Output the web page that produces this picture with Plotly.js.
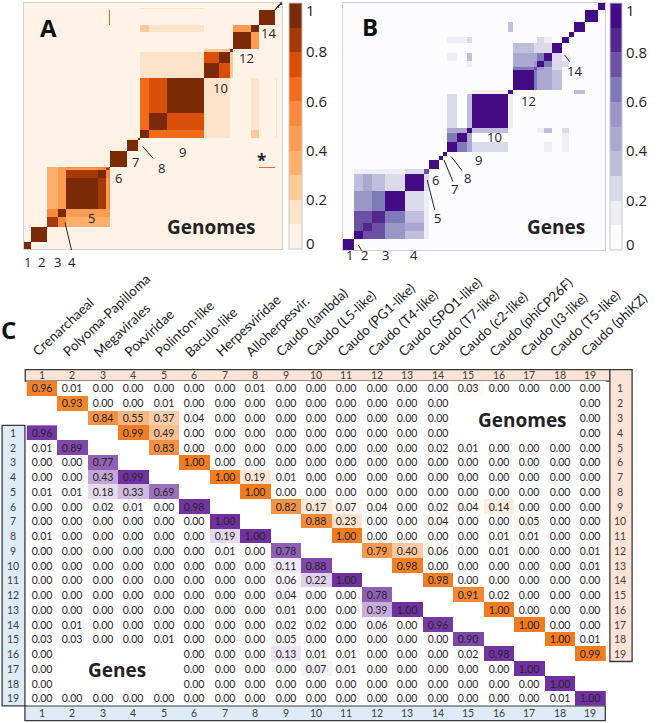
<!DOCTYPE html>
<html>
<head>
<meta charset="utf-8">
<script src="https://cdn.plot.ly/plotly-3.0.1.min.js"></script>
<style>
  html, body { margin: 0; padding: 0; background: #fff; }
  #chart { width: 660px; height: 723px; }
</style>
</head>
<body>
<div id="chart"></div>
<script>
// ---------- table C ----------
const columnNames = [
  'Crenarchaeal', 'Polyoma-Papilloma', 'Megavirales', 'Poxviridae', 'Polinton-like',
  'Baculo-like', 'Herpesviridae', 'Alloherpesvir.', 'Caudo (lambda)', 'Caudo (L5-like)',
  'Caudo (PG1-like)', 'Caudo (T4-like)', 'Caudo (SPO1-like)', 'Caudo (T7-like)',
  'Caudo (c2-like)', 'Caudo (phiCP26F)', 'Caudo (I3-like)', 'Caudo (T5-like)', 'Caudo (phiKZ)'
];

// genomes: row i holds columns i..19 (null = hidden under the label)
const genomeRows = [
  [0.96, 0.01, 0.00, 0.00, 0.00, 0.00, 0.00, 0.01, 0.00, 0.00, 0.00, 0.00, 0.00, 0.00, 0.03, 0.00, 0.00, 0.00, 0.00],
  [0.93, 0.00, 0.00, 0.01, 0.00, 0.00, 0.00, 0.00, 0.00, 0.00, 0.00, 0.00, 0.00, null, null, null, null, 0.00],
  [0.84, 0.55, 0.37, 0.04, 0.00, 0.00, 0.00, 0.00, 0.00, 0.00, 0.00, 0.00, null, null, null, null, 0.00],
  [0.99, 0.49, 0.00, 0.00, 0.00, 0.00, 0.00, 0.00, 0.00, 0.00, 0.00, null, null, null, null, 0.00],
  [0.83, 0.00, 0.00, 0.00, 0.00, 0.00, 0.00, 0.00, 0.00, 0.02, 0.01, 0.00, 0.00, 0.00, 0.00],
  [1.00, 0.00, 0.00, 0.00, 0.00, 0.00, 0.00, 0.00, 0.00, 0.00, 0.00, 0.00, 0.00, 0.00],
  [1.00, 0.19, 0.01, 0.00, 0.00, 0.00, 0.00, 0.00, 0.00, 0.00, 0.00, 0.00, 0.00],
  [1.00, 0.00, 0.00, 0.00, 0.00, 0.00, 0.00, 0.00, 0.00, 0.00, 0.00, 0.00],
  [0.82, 0.17, 0.07, 0.04, 0.00, 0.02, 0.04, 0.14, 0.00, 0.00, 0.00],
  [0.88, 0.23, 0.00, 0.00, 0.04, 0.00, 0.00, 0.05, 0.00, 0.00],
  [1.00, 0.00, 0.00, 0.00, 0.00, 0.01, 0.01, 0.00, 0.00],
  [0.79, 0.40, 0.06, 0.00, 0.01, 0.00, 0.00, 0.01],
  [0.98, 0.00, 0.00, 0.00, 0.00, 0.00, 0.01],
  [0.98, 0.00, 0.00, 0.00, 0.00, 0.00],
  [0.91, 0.02, 0.00, 0.00, 0.00],
  [1.00, 0.00, 0.00, 0.00],
  [1.00, 0.00, 0.00],
  [1.00, 0.01],
  [0.99]
];

// genes: row i holds columns 1..i
const geneRows = [
  [0.96],
  [0.01, 0.89],
  [0.00, 0.00, 0.77],
  [0.00, 0.00, 0.43, 0.99],
  [0.01, 0.01, 0.18, 0.33, 0.69],
  [0.00, 0.00, 0.02, 0.01, 0.00, 0.98],
  [0.00, 0.00, 0.00, 0.00, 0.00, 0.00, 1.00],
  [0.01, 0.00, 0.00, 0.00, 0.00, 0.00, 0.19, 1.00],
  [0.00, 0.00, 0.00, 0.00, 0.00, 0.00, 0.01, 0.00, 0.78],
  [0.00, 0.00, 0.00, 0.00, 0.00, 0.00, 0.00, 0.00, 0.11, 0.88],
  [0.00, 0.00, 0.00, 0.00, 0.00, 0.00, 0.00, 0.00, 0.06, 0.22, 1.00],
  [0.00, 0.00, 0.00, 0.00, 0.00, 0.00, 0.00, 0.00, 0.04, 0.00, 0.00, 0.78],
  [0.00, 0.00, 0.00, 0.00, 0.00, 0.00, 0.00, 0.00, 0.01, 0.00, 0.00, 0.39, 1.00],
  [0.00, 0.01, 0.00, 0.00, 0.00, 0.00, 0.00, 0.00, 0.02, 0.02, 0.00, 0.06, 0.00, 0.96],
  [0.03, 0.03, 0.00, 0.00, 0.01, 0.00, 0.00, 0.00, 0.05, 0.00, 0.00, 0.00, 0.00, 0.00, 0.90],
  [0.00, null, null, null, null, 0.00, 0.00, 0.00, 0.13, 0.01, 0.01, 0.00, 0.00, 0.00, 0.02, 0.98],
  [0.00, null, null, null, null, 0.00, 0.00, 0.00, 0.00, 0.07, 0.01, 0.00, 0.00, 0.00, 0.00, 0.00, 1.00],
  [0.00, null, null, null, null, 0.00, 0.00, 0.00, 0.00, 0.00, 0.00, 0.00, 0.00, 0.00, 0.00, 0.00, 0.00, 1.00],
  [0.00, 0.00, 0.00, 0.00, 0.00, 0.00, 0.00, 0.00, 0.00, 0.00, 0.00, 0.00, 0.00, 0.00, 0.00, 0.00, 0.00, 0.01, 1.00]
];

// ---------- panel A (genomes), blocks along the diagonal ----------
const aSegSize  = [7, 16, 11, 8, 33, 8, 3, 1, 17, 11, 2, 9, 18, 37, 16, 11, 3, 18, 8, 16, 1, 1, 2, 1, 2];
const aSegGroup = [1, 2, 3, 4, 5, 5, 5, 5, 6, 7, 8, 9, 9, 9, 10, 10, 11, 12, 13, 14, 15, 16, 17, 18, 19];
const aSegSelf  = [0.96, 0.95, 0.85, 0.99, 0.95, 0.95, 0.85, 0.9, 1.0, 1.0, 1.0, 0.95, 0.95, 0.98,
                   0.95, 0.92, 1.0, 0.95, 0.95, 0.98, 1.0, 1.0, 1.0, 1.0, 1.0];
// [segment, segment, value] (sub-clusters, the * genome)
const aSegPairs = [
  [5, 6, 0.8], [5, 7, 0.45], [6, 7, 0.5], [5, 8, 0.5], [6, 8, 0.5], [7, 8, 0.6],
  [12, 13, 0.65], [12, 14, 0.62], [13, 14, 0.75], [15, 16, 0.75],
  [8, 20, 0.65], [12, 19, 0.25], [13, 19, 0.12], [14, 19, 0.12]
];

// ---------- panel B (genes) ----------
const bSegSize = [11, 9, 8, 13, 20, 18, 5, 10, 4, 4, 10, 10, 5, 35, 5, 20, 3, 7, 8, 10, 7, 5, 10, 13, 7];
const bSegSelf = [0.95, 0.95, 0.8, 0.85, 1.0, 1.0, 0.7, 1.0, 1.0, 1.0, 1.0, 1.0, 0.9, 0.98, 1.0,
                  1.0, 0.7, 1.0, 1.0, 1.0, 1.0, 1.0, 1.0, 1.0, 1.0];
const bSegPairs = [
  [2, 3, 0.75], [2, 4, 0.7], [2, 5, 0.55], [2, 6, 0.3],
  [3, 4, 0.7], [3, 5, 0.5], [3, 6, 0.45],
  [4, 5, 0.6], [4, 6, 0.35], [5, 6, 0.2],
  [2, 7, 0.15], [3, 7, 0.15], [4, 7, 0.15], [5, 7, 0.15], [6, 7, 0.25],
  [11, 12, 0.65], [11, 13, 0.4], [12, 13, 0.45],
  [11, 14, 0.2], [13, 14, 0.3], [14, 15, 0.15],
  [16, 17, 0.6], [16, 18, 0.45], [16, 19, 0.4], [16, 20, 0.3], [17, 18, 0.5], [17, 19, 0.45],
  [18, 19, 0.6], [18, 20, 0.2], [19, 20, 0.25], [17, 20, 0.2],
  [18, 21, 0.2], [19, 21, 0.15],
  [11, 21, 0.15], [12, 21, 0.15], [13, 21, 0.2],
  [15, 23, 0.3], [11, 19, 0.15], [13, 19, 0.3], [13, 18, 0.15]
];

const ORANGE_BINS = ['#fff3e8', '#fee3cb', '#fdca98', '#fdb06e', '#fb9c52', '#f88a3a',
                     '#f06c1a', '#d94e08', '#a33a08', '#7b2a08'];
const PURPLE_BINS = ['#fcfbfd', '#efedf5', '#dadaeb', '#bfbedd', '#aaa7d0', '#9b96c6',
                     '#7f7bb9', '#6a51a3', '#54278f', '#430b84'];

const W = 660, H = 723;
const PX = p => p / W;
const PY = p => 1 - p / H;
// table C grid: column centres in pixels
const COL_X0 = 42, COL_STEP = 30.45;

function stepScale(colors) {
  const n = colors.length;
  const out = [];
  colors.forEach((c, i) => { out.push([i / n, c]); out.push([(i + 1) / n, c]); });
  return out;
}

function edges(sizes) {
  const e = [0];
  sizes.forEach(s => e.push(e[e.length - 1] + s));
  return e;
}

function genomeValue(g1, g2) {
  const r = Math.min(g1, g2) - 1, c = Math.max(g1, g2) - 1;
  const v = genomeRows[r][c - r];
  return v == null ? 0 : v;
}

function segMatrix(self, pairs, base) {
  const n = self.length;
  const z = [];
  for (let i = 0; i < n; i++) {
    const row = [];
    for (let j = 0; j < n; j++) row.push(i === j ? self[i] : base(i, j));
    z.push(row);
  }
  pairs.forEach(([a, b, v]) => { z[a - 1][b - 1] = v; z[b - 1][a - 1] = v; });
  return z;
}

const zA = segMatrix(aSegSelf, aSegPairs, (i, j) => genomeValue(aSegGroup[i], aSegGroup[j]));
const zB = segMatrix(bSegSelf, bSegPairs, () => 0);
const aEdges = edges(aSegSize), bEdges = edges(bSegSize);
const aTotal = aEdges[aEdges.length - 1], bTotal = bEdges[bEdges.length - 1];

// table C matrices
const N = columnNames.length;
const colIdx = columnNames.map((_, i) => i + 1);
const zGen = [], tGen = [], zGene = [], tGene = [];
for (let r = 0; r < N; r++) {
  const zr = [], tr = [], zg = [], tg = [];
  for (let c = 0; c < N; c++) {
    const v = c >= r ? genomeRows[r][c - r] : null;
    zr.push(v); tr.push(v == null ? '' : v.toFixed(2));
    const w = c <= r ? geneRows[r][c] : null;
    zg.push(w); tg.push(w == null ? '' : w.toFixed(2));
  }
  zGen.push(zr); tGen.push(tr); zGene.push(zg); tGene.push(tg);
}

const CB_FONT = {family: 'Open Sans, sans-serif', size: 15, color: '#222'};
const TABLE_FONT = {family: 'Lato, sans-serif', size: 10.5, color: '#262626'};
const CB_TICKS = {
  tickvals: [0.02, 0.2, 0.4, 0.6, 0.8, 0.97],
  ticktext: ['0', '0.2', '0.4', '0.6', '0.8', '1'],
  ticks: '', tickfont: CB_FONT, ticklabeloverflow: 'allow'
};

const traces = [
  {
    type: 'heatmap', x: aEdges, y: aEdges, z: zA, xaxis: 'x', yaxis: 'y',
    colorscale: stepScale(ORANGE_BINS), zmin: 0, zmax: 1, hoverinfo: 'skip',
    colorbar: Object.assign({
      x: PX(289), xanchor: 'left', xpad: 0, y: PY(126), yanchor: 'middle', ypad: 0,
      len: 246, lenmode: 'pixels', thickness: 13, outlinecolor: '#c8c8c8', outlinewidth: 1
    }, CB_TICKS)
  },
  {
    type: 'heatmap', x: bEdges, y: bEdges, z: zB, xaxis: 'x2', yaxis: 'y2',
    colorscale: stepScale(PURPLE_BINS), zmin: 0, zmax: 1, hoverinfo: 'skip',
    colorbar: Object.assign({
      x: PX(610), xanchor: 'left', xpad: 0, y: PY(126.5), yanchor: 'middle', ypad: 0,
      len: 247, lenmode: 'pixels', thickness: 12, outlinecolor: '#c8c8c8', outlinewidth: 1
    }, CB_TICKS)
  },
  {
    type: 'heatmap', x: colIdx, y: colIdx, z: zGen, text: tGen, texttemplate: '%{text}',
    textfont: TABLE_FONT, xaxis: 'x3', yaxis: 'y3', showscale: false, hoverinfo: 'skip',
    colorscale: [[0, '#ffffff'], [1, '#f27b1f']], zmin: 0, zmax: 1
  },
  {
    type: 'heatmap', x: colIdx, y: colIdx.map(v => v + 3), z: zGene, text: tGene,
    texttemplate: '%{text}', textfont: TABLE_FONT, xaxis: 'x3', yaxis: 'y3',
    showscale: false, hoverinfo: 'skip',
    colorscale: [[0, '#ffffff'], [1, '#7030a0']], zmin: 0, zmax: 1
  }
];

const frameAxis = (domain, range, anchor) => ({
  domain: domain, range: range, anchor: anchor, showline: true, mirror: true,
  linecolor: '#d0d0d0', linewidth: 1, showticklabels: false, ticks: '',
  showgrid: false, zeroline: false, fixedrange: true
});

const annotations = [];
function label(text, x, y, size, opts) {
  annotations.push(Object.assign({
    text: text, x: PX(x), y: PY(y), xref: 'paper', yref: 'paper', showarrow: false,
    xanchor: 'center', yanchor: 'middle',
    font: {family: 'Open Sans, sans-serif', size: size, color: '#222'}
  }, opts || {}));
}
const BIG = {family: 'Open Sans, sans-serif', size: 24, color: '#111'};

// panel A labels
label('<b>A</b>', 48.5, 28, 24, {font: BIG});
label('<b>Genomes</b>', 211, 227, 19);
[['1', 27, 262], ['2', 41, 262], ['3', 57, 262], ['4', 72, 262], ['5', 91.5, 218],
 ['6', 118, 178], ['7', 135, 162], ['8', 161.5, 168], ['9', 182.5, 152], ['10', 220, 88],
 ['12', 246.5, 58], ['14', 268, 33]].forEach(([t, x, y]) => label(t, x, y, 13));
label('<b>*</b>', 261, 160, 17);

// panel B labels
label('<b>B</b>', 370, 27, 24, {font: BIG});
label('<b>Genes</b>', 556, 227, 19);
[['1', 349.5, 255], ['2', 364.5, 255], ['3', 385, 255], ['4', 414, 255], ['5', 437.5, 218],
 ['6', 435.5, 180], ['7', 454, 189], ['8', 467.5, 178], ['9', 478, 160], ['10', 494.5, 137],
 ['12', 528.5, 101], ['14', 574.5, 71]].forEach(([t, x, y]) => label(t, x, y, 13));

// panel C labels
label('<b>C</b>', 8, 330, 24, {font: BIG});
label('<b>Genomes</b>', 522, 420, 19);
label('<b>Genes</b>', 117, 670, 19);

const NUM_FONT = {family: 'Lato, sans-serif', size: 10.5, color: '#404040'};
columnNames.forEach((name, i) => {
  const c = i + 1;
  annotations.push({text: name, x: PX(COL_X0 + i * COL_STEP - 14), y: PY(361),
    xref: 'paper', yref: 'paper', showarrow: false, borderpad: 0,
    xanchor: 'left', yanchor: 'bottom', textangle: -43,
    font: {family: 'Lato, sans-serif', size: 13.5, color: '#222'}});
  annotations.push({text: String(c), x: c, y: 0.1, xref: 'x3', yref: 'y3', showarrow: false, font: NUM_FONT});
  annotations.push({text: String(c), x: 19.98, y: c, xref: 'x3', yref: 'y3', showarrow: false, font: NUM_FONT});
  annotations.push({text: String(c), x: 0.05, y: c + 3, xref: 'x3', yref: 'y3', showarrow: false, font: NUM_FONT});
  annotations.push({text: String(c), x: c, y: 23, xref: 'x3', yref: 'y3', showarrow: false, font: NUM_FONT});
});

const lead = (x0, y0, x1, y1) => ({type: 'line', xref: 'paper', yref: 'paper',
  x0: PX(x0), y0: PY(y0), x1: PX(x1), y1: PY(y1), line: {color: '#222', width: 1}});
const box = (x0, x1, y0, y1, fill) => ({type: 'rect', xref: 'x3', yref: 'y3', layer: 'below',
  x0: x0, x1: x1, y0: y0, y1: y1, fillcolor: fill, line: {color: '#3a3a3a', width: 1.3}});

const shapes = [
  lead(65, 222.5, 71.5, 250), lead(142.7, 146.7, 153.3, 158.3), lead(275, 9.5, 281.7, 1.7),
  lead(358.3, 245, 361.7, 250.7), lead(427.3, 180, 434.7, 210), lead(444, 160, 453, 181.7),
  lead(451.3, 156.7, 462, 170.7), lead(564.7, 55, 569.7, 61.7),
  box(0.45, 19.65, -0.27, 0.5, '#fbe4d5'),
  box(19.65, 20.38, -0.27, 19.5, '#fbe4d5'),
  box(-0.31, 0.44, 3.5, 22.5, '#ddebf7'),
  box(0.44, 19.5, 22.5, 23.5, '#ddebf7')
];

const layout = {
  width: W, height: H,
  margin: {l: 0, r: 0, t: 0, b: 0},
  paper_bgcolor: '#ffffff', plot_bgcolor: 'rgba(0,0,0,0)',
  showlegend: false,
  xaxis: frameAxis([PX(24), PX(282)], [0, aTotal], 'y'),
  yaxis: frameAxis([PY(249), PY(3)], [0, aTotal], 'x'),
  xaxis2: frameAxis([PX(343), PX(605)], [0, bTotal], 'y2'),
  yaxis2: frameAxis([PY(250), PY(3)], [0, bTotal], 'x2'),
  xaxis3: {domain: [0, 1], range: [-0.379, 21.296], anchor: 'y3', visible: false, fixedrange: true},
  yaxis3: {domain: [0, PY(360)], range: [23.665, -0.928], anchor: 'x3', visible: false, fixedrange: true},
  annotations: annotations,
  shapes: shapes
};

Plotly.newPlot('chart', traces, layout, {staticPlot: true});
</script>
</body>
</html>
